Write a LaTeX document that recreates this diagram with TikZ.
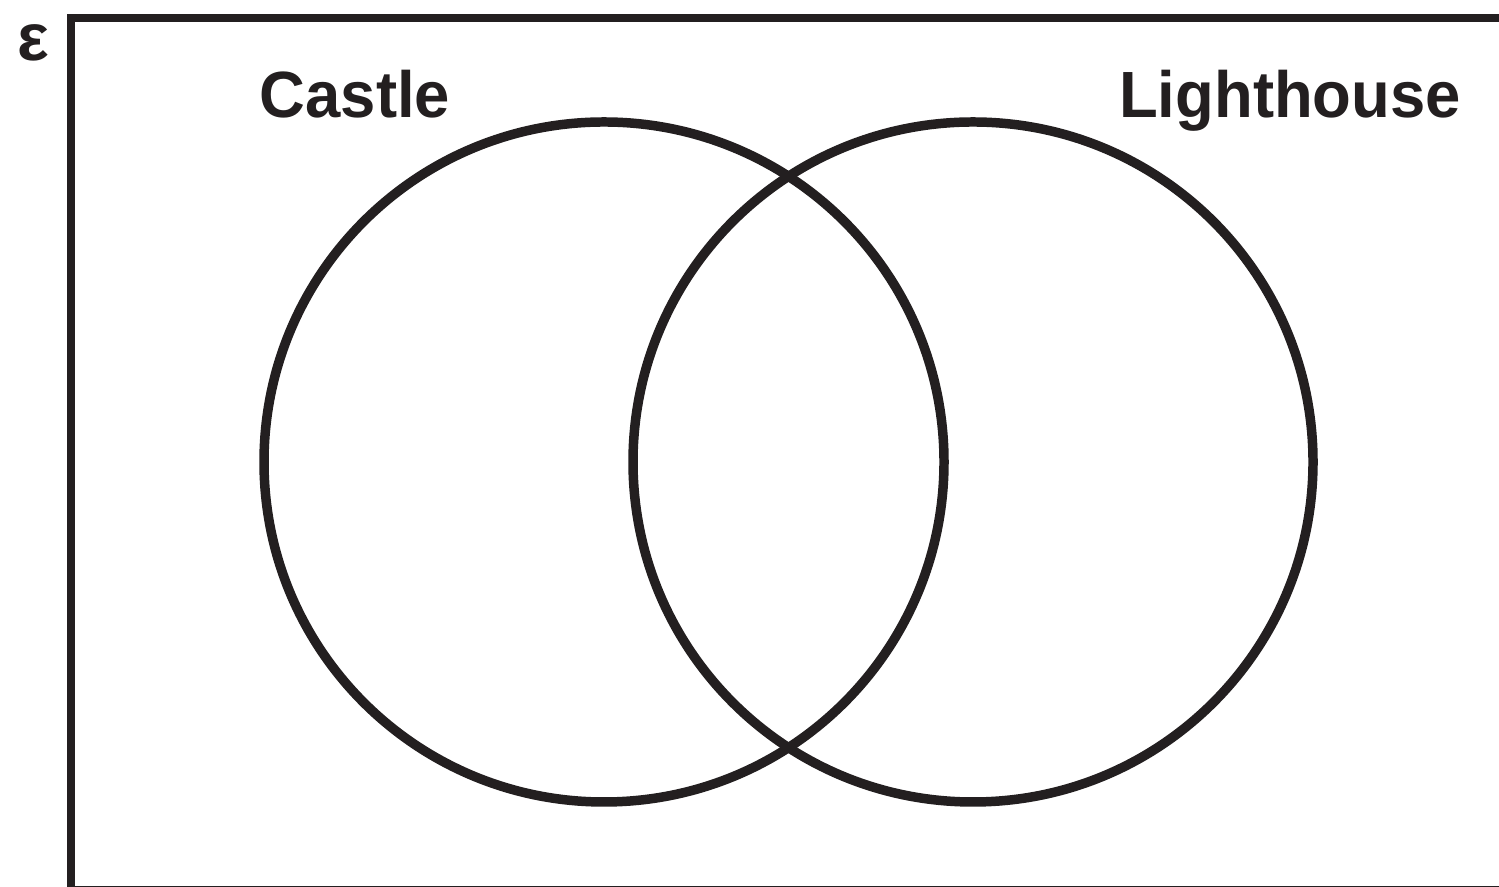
\documentclass[tikz,border=0pt]{standalone}
\usepackage{fontspec}
\setmainfont{Liberation Sans}
\usetikzlibrary{positioning}
\definecolor{ink}{HTML}{231F20}
\begin{document}
\begin{tikzpicture}[set/.style={draw=ink,circle,line width=2.7pt,minimum size=6.8cm,inner sep=0pt},lbl/.style={font=\bfseries\fontsize{18.6}{22}\selectfont,text=ink,anchor=base,inner sep=0pt,xscale=0.97}]
\useasboundingbox (0,0) rectangle (14.99,8.87);
\clip (0,0) rectangle (14.99,8.87);
\draw[ink,line width=2.3pt](0.71,-0.03) rectangle (15.2,8.69);
\node[font=\bfseries\fontsize{19}{22}\selectfont,text=ink](u) at (0.33,8.44){ε};
\node[set](c) at (6.04,4.25){};
\node[set](l) at (9.73,4.25){};
\node[lbl](cl) at (3.55,7.69){Castle};
\node[lbl](ll) at (12.90,7.69){Lighthouse};
\end{tikzpicture}
\end{document}
